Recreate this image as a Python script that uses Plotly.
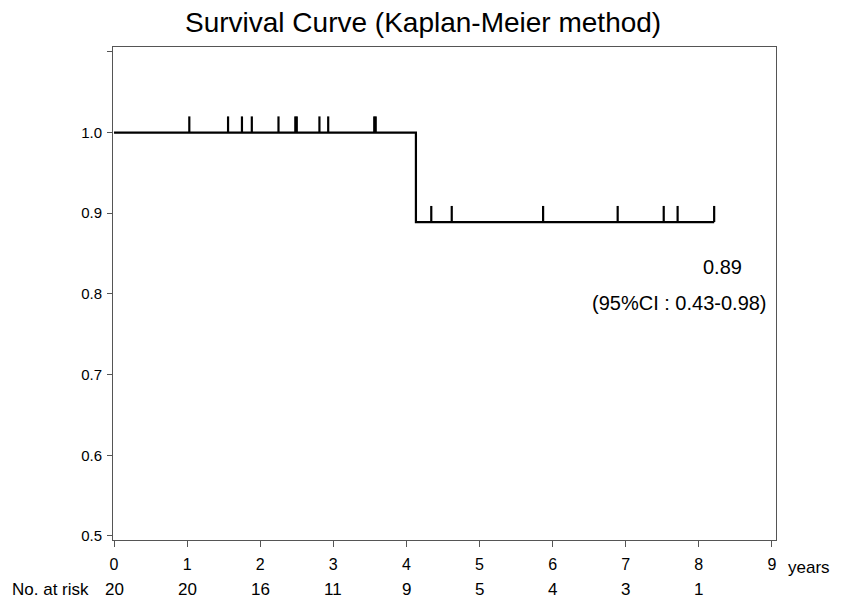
import plotly.graph_objects as go

# Kaplan-Meier step curve
step_times = [0, 4.13, 4.13, 8.21]
step_surv = [1.0, 1.0, 0.889, 0.889]

# Censored observations (time, survival at that time)
censor_times = [1.03, 1.56, 1.75, 1.885, 2.25, 2.48, 2.50, 2.81, 2.93, 3.56, 3.58,
                4.34, 4.62, 5.87, 6.89, 7.52, 7.71, 8.21]
censor_surv = [1.0] * 11 + [0.889] * 7

# Number at risk table
risk_years = [0, 1, 2, 3, 4, 5, 6, 7, 8]
risk_counts = [20, 20, 16, 11, 9, 5, 4, 3, 1]

x_ticks = list(range(0, 10))
y_ticks = [0.5, 0.6, 0.7, 0.8, 0.9, 1.0, 1.1]
y_ticktext = ["0.5", "0.6", "0.7", "0.8", "0.9", "1.0", ""]

FONT = "Arial, Liberation Sans, sans-serif"
MARK_H = 0.02

fig = go.Figure()
fig.add_trace(go.Scatter(x=step_times, y=step_surv, mode="lines",
                         line=dict(color="black", width=2.2), hoverinfo="skip",
                         showlegend=False))

cx, cy = [], []
for t, s in zip(censor_times, censor_surv):
    cx += [t, t, None]
    cy += [s, s + MARK_H, None]
fig.add_trace(go.Scatter(x=cx, y=cy, mode="lines",
                         line=dict(color="black", width=2.2), hoverinfo="skip",
                         showlegend=False))

ann = []
ann.append(dict(text="Survival Curve (Kaplan-Meier method)", xref="paper", yref="paper",
                x=0.467, y=1.0, yshift=25, xanchor="center", yanchor="middle",
                showarrow=False, font=dict(size=28, color="black", family=FONT)))
ann.append(dict(text="0.89", xref="x", yref="y", x=8.21, y=0.889, xanchor="center",
                yanchor="middle", yshift=-45, xshift=8, showarrow=False,
                font=dict(size=20, color="black", family=FONT)))
ann.append(dict(text="(95%CI : 0.43-0.98)", xref="x", yref="y", x=7.73, y=0.889,
                xanchor="center", yanchor="middle", yshift=-81, showarrow=False,
                font=dict(size=20, color="black", family=FONT)))
ann.append(dict(text="years", xref="paper", yref="paper", x=1.0, xshift=10, y=0, yshift=-27,
                xanchor="left", yanchor="middle", showarrow=False,
                font=dict(size=17, color="black", family=FONT)))
ann.append(dict(text="No. at risk", xref="paper", yref="paper", x=-0.155, y=0, yshift=-49,
                xanchor="left", yanchor="middle", showarrow=False,
                font=dict(size=17, color="black", family=FONT)))
for yr, n in zip(risk_years, risk_counts):
    ann.append(dict(text=str(n), xref="x", yref="paper", x=yr, y=0, yshift=-49,
                    xanchor="center", yanchor="middle", showarrow=False,
                    font=dict(size=17, color="black", family=FONT)))

fig.update_layout(
    width=833, height=590,
    margin=dict(l=105, r=65, t=39, b=58),
    paper_bgcolor="white", plot_bgcolor="white",
    annotations=ann,
    font=dict(family=FONT, color="black"),
)
fig.update_xaxes(range=[-0.014, 9.056], tickvals=x_ticks, ticks="outside", ticklen=6,
                 tickcolor="#555", showline=True, linecolor="#555", linewidth=1,
                 mirror=True, showgrid=False, zeroline=False,
                 tickfont=dict(size=16, color="black", family=FONT), ticklabelstandoff=4)
fig.update_yaxes(range=[0.495, 1.106], tickvals=y_ticks, ticktext=y_ticktext,
                 ticks="outside", ticklen=5, tickcolor="#555", showline=True,
                 linecolor="#555", linewidth=1, mirror=True, showgrid=False,
                 zeroline=False, tickfont=dict(size=15, color="black", family=FONT),
                 ticklabelstandoff=2)

fig.write_html("out.html")
